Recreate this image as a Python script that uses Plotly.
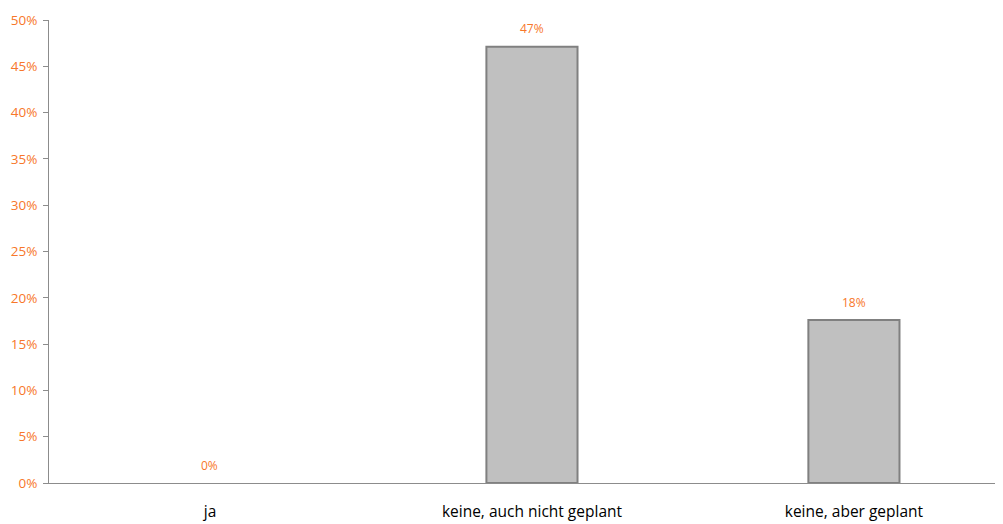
import plotly.graph_objects as go

categories = ["ja", "keine, auch nicht geplant", "keine, aber geplant"]
values = [0.0, 0.471, 0.176]
labels = ["0%", "47%", "18%"]
y_ticks = [0, 0.05, 0.10, 0.15, 0.20, 0.25, 0.30, 0.35, 0.40, 0.45, 0.50]
y_tick_text = ["0%", "5%", "10%", "15%", "20%", "25%", "30%", "35%", "40%", "45%", "50%"]

orange = "#F7772A"
font_family = "Open Sans"

fig = go.Figure()
fig.add_trace(go.Bar(
    x=categories, y=values, width=0.283,
    marker=dict(color="#C0C0C0",
                line=dict(color="#808080", width=[0 if v == 0 else 2 for v in values])),
    hoverinfo="skip",
))
for c, v, t in zip(categories, values, labels):
    fig.add_annotation(x=c, y=v, text=t, showarrow=False, yshift=18,
                       font=dict(color=orange, size=12, family=font_family))

fig.update_layout(
    template="none",
    width=1003, height=524,
    margin=dict(l=41, r=8, t=12, b=49),
    paper_bgcolor="white", plot_bgcolor="white",
    showlegend=False,
    font=dict(family=font_family),
    xaxis=dict(
        automargin=False,
        range=[-0.5, 2.463], showgrid=False, zeroline=False,
        showline=True, linecolor="#8C8C8C", linewidth=1,
        ticks="", tickfont=dict(color="black", size=15.5, family=font_family),
        ticklabelstandoff=14,
    ),
    yaxis=dict(
        automargin=False,
        range=[0, 0.5], tickvals=y_ticks, ticktext=y_tick_text,
        showgrid=False, zeroline=False,
        showline=True, linecolor="#8C8C8C", linewidth=1,
        ticks="outside", ticklen=5, tickcolor="#8C8C8C",
        tickfont=dict(color=orange, size=13.5, family=font_family),
        ticklabelstandoff=3,
    ),
)
fig.write_html("out.html")
